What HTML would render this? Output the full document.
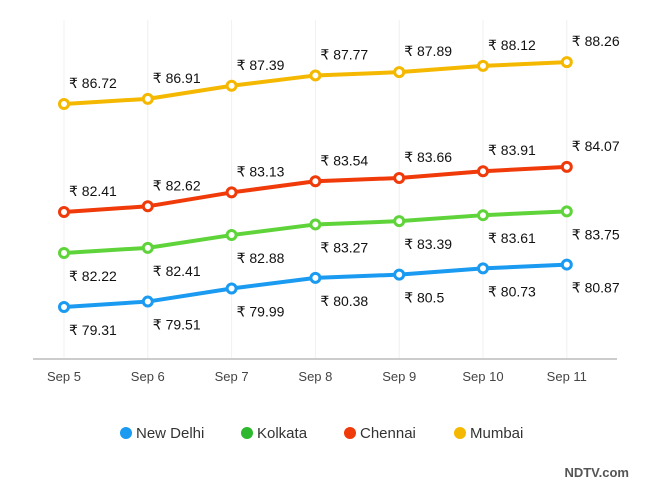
<!DOCTYPE html>
<html><head><meta charset="utf-8"><style>
body{margin:0;background:#fff;font-family:"Liberation Sans",sans-serif;}
svg{display:block}
</style></head><body>
<svg id="c" width="650" height="500"></svg>
<script>
const categories=["Sep 5","Sep 6","Sep 7","Sep 8","Sep 9","Sep 10","Sep 11"];
const seriesNames=["New Delhi","Kolkata","Chennai","Mumbai"];
const delhi=[79.31,79.51,79.99,80.38,80.5,80.73,80.87];
const kolkata=[82.22,82.41,82.88,83.27,83.39,83.61,83.75];
const chennai=[82.41,82.62,83.13,83.54,83.66,83.91,84.07];
const mumbai=[86.72,86.91,87.39,87.77,87.89,88.12,88.26];
const NS="http://www.w3.org/2000/svg";
const svg=document.getElementById('c');
function mk(t,a,p){const e=document.createElementNS(NS,t);for(const k in a)e.setAttribute(k,a[k]);(p||svg).appendChild(e);return e;}
const xPos=i=>64+i*83.8;
const k=27.2;
// each series has its own baseline in the reference
const series=[
 {vals:delhi,color:"#1a9af0",base:307,above:false,name:"new-delhi"},
 {vals:kolkata,color:"#5fd43a",base:253,above:false,name:"kolkata"},
 {vals:chennai,color:"#f03a0a",base:212,above:true,name:"chennai"},
 {vals:mumbai,color:"#f5b800",base:104,above:true,name:"mumbai"}];
categories.forEach((c,i)=>{
 const g=mk('line',{x1:xPos(i),x2:xPos(i),y1:20,y2:359,stroke:"#f0f0f0","stroke-width":1});
 
 
 const t=mk('text',{x:xPos(i),y:381,"text-anchor":"middle","font-size":13,fill:"#444"});
 t.textContent=c;
 
 
});
const ax=mk('line',{x1:33,x2:617,y1:359,y2:359,stroke:"#ccc","stroke-width":2});


series.forEach(s=>{
 const y=v=>s.base-(v-s.vals[0])*k;
 const pts=s.vals.map((v,i)=>xPos(i)+","+y(v)).join(" ");
 const pl=mk('polyline',{points:pts,fill:"none",stroke:s.color,"stroke-width":4});
 
 
 s.vals.forEach((v,i)=>{
  const c=mk('circle',{cx:xPos(i),cy:y(v),r:4.5,fill:"#fff",stroke:s.color,"stroke-width":3});
  
  
  const t=mk('text',{x:xPos(i)+5,y:s.above?y(v)-16:y(v)+28,"font-size":14,fill:"#111"});
  t.textContent="₹ "+v;
  
  
 });
});
const legX=[126,247,350,460];
const legC=["#1a9af0","#2eb82e","#f03a0a","#f5b800"];
seriesNames.forEach((n,i)=>{
 const g=mk('g',{});
 
 
 mk('circle',{cx:legX[i],cy:433,r:6,fill:legC[i]},g);
 const t=mk('text',{x:legX[i]+10,y:438,"font-size":15,fill:"#333"},g);
 t.textContent=n;
});
const lg=mk('text',{x:629,y:477,"text-anchor":"end","font-size":13,fill:"#555","font-weight":"bold"});
lg.textContent="NDTV.com";


</script>
</body></html>
